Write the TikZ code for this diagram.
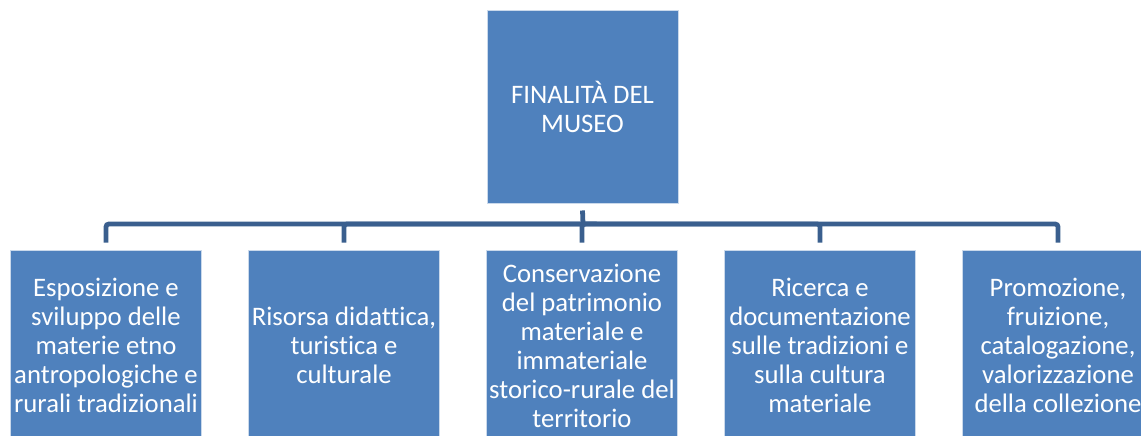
\documentclass[tikz,border=0pt]{standalone}
\usepackage{fontspec}
\setmainfont{Carlito}[Ligatures={NoCommon}]
\definecolor{boxblue}{HTML}{4F81BD}
\definecolor{linkblue}{HTML}{3A5F8E}
\tikzset{
  goal/.style={draw=white!70!boxblue, line width=0.6pt, fill=boxblue, text=white,
    align=center, inner sep=0pt, minimum width=4.775cm, minimum height=4.775cm,
    font=\fontsize{19}{20.6}\selectfont},
  link/.style={draw=linkblue, line width=3.4pt, rounded corners=2pt}
}
\begin{document}
\begin{tikzpicture}[x=0.025cm, y=-0.025cm]
      \useasboundingbox (0,0) rectangle (1141,435);
      \draw
        (582.5,106.5) node[goal, minimum height=4.825cm] (top){FINALITÀ DEL\\MUSEO}
        (106,345.5) node[goal] (c1){Esposizione e\\sviluppo delle\\materie etno\\antropologiche e\\rurali tradizionali}
        (344,345.5) node[goal] (c2){Risorsa didattica,\\turistica e\\culturale}
        (582,345.5) node[goal] (c3){Conservazione\\del patrimonio\\materiale e\\immateriale\\storico-rurale del\\territorio}
        (820,345.5) node[goal] (c4){Ricerca e\\documentazione\\sulle tradizioni e\\sulla cultura\\materiale}
        (1058,345.5) node[goal] (c5){Promozione,\\fruizione,\\catalogazione,\\valorizzazione\\della collezione};
      \coordinate (hub) at (583,224);
      \begin{scope}[link]
        \draw ([yshift=-5pt]top.south) -- (hub);
        \draw (hub) -| ([yshift=5pt]c1.north);
        \draw (hub) -| ([yshift=5pt]c2.north);
        \draw (hub) -| ([yshift=5pt]c3.north);
        \draw (hub) -| ([yshift=5pt]c4.north);
        \draw (hub) -| ([yshift=5pt]c5.north);
      \end{scope}
    \end{tikzpicture}
\end{document}
